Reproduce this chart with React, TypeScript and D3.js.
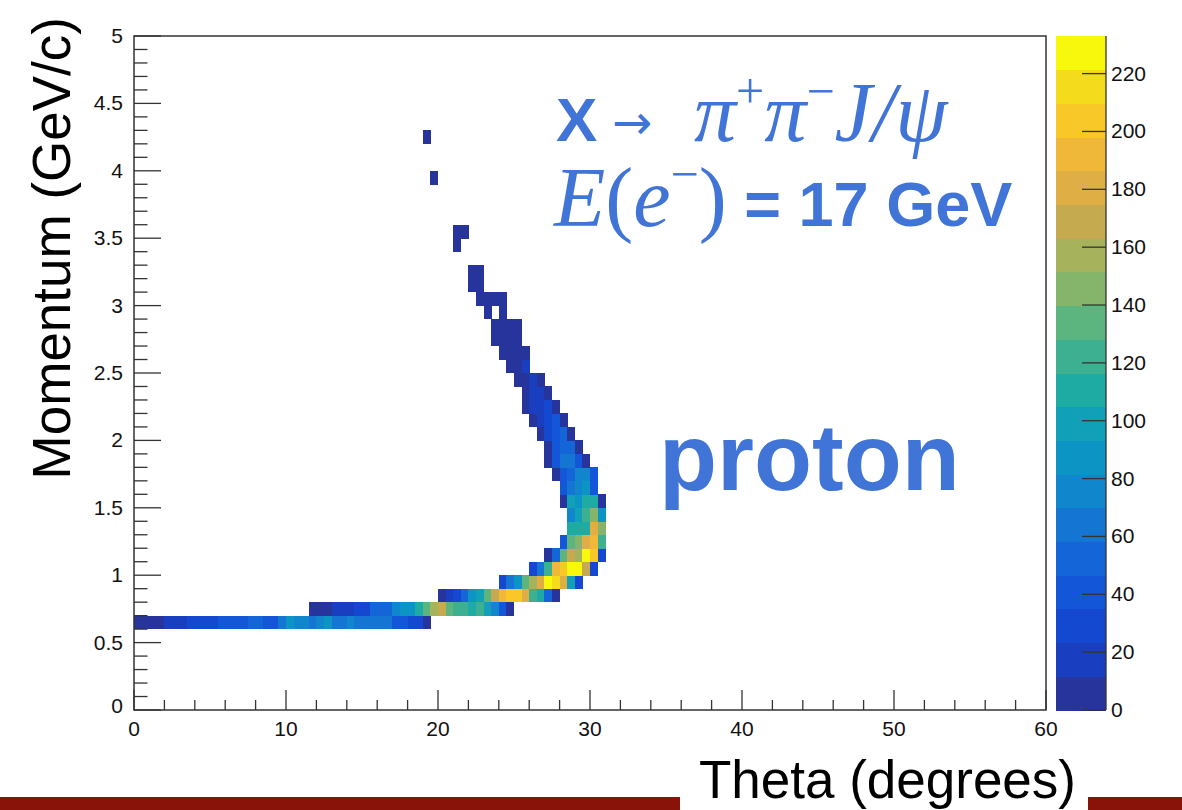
import React from "react";
import * as d3 from "d3";

// ---- data (2D histogram, bins 0.5 deg x 0.1 GeV/c) ----
const THETA_BIN = 0.5;
const P_BIN = 0.1;
const Z_MAX = 233;

// lower momentum edge of each filled row
const rowMomentum = [0.6, 0.7, 0.8, 0.9, 1.0, 1.1, 1.2, 1.3, 1.4, 1.5, 1.6, 1.7, 1.8, 1.9, 2.0, 2.1, 2.2, 2.3, 2.4, 2.5, 2.6, 2.7, 2.8, 2.9, 3.0, 3.1, 3.2, 3.4, 3.5, 3.9, 4.2];
// lower theta edge of the first filled cell of each row
const rowThetaStart = [0, 11.5, 20, 24, 26, 27, 28, 28.5, 28.5, 28, 28, 27.5, 27, 27, 26.5, 26, 25.5, 25.5, 25, 24.5, 24, 23.5, 23.5, 23, 22.5, 22, 22, 21, 21, 19.5, 19];
// counts of consecutive cells starting at rowThetaStart
const rowCounts = [
  [8, 8, 8, 10, 22, 22, 22, 24, 30, 30, 32, 40, 35, 45, 45, 55, 55, 45, 45, 60, 88, 70, 70, 60, 70, 88, 60, 60, 72, 62, 62, 62, 60, 60, 45, 45, 25, 25, 8],
  [8, 8, 10, 22, 22, 22, 32, 32, 50, 50, 55, 75, 90, 90, 115, 130, 155, 165, 135, 125, 125, 105, 125, 95, 80, 40, 10],
  [5, 22, 30, 55, 85, 95, 135, 165, 195, 205, 205, 180, 125, 110, 50, 10],
  [25, 60, 85, 135, 160, 185, 225, 215, 180, 100, 30],
  [25, 65, 120, 195, 200, 228, 225, 170, 25],
  [8, 55, 130, 170, 160, 225, 205, 25],
  [45, 135, 145, 185, 195, 120],
  [105, 105, 110, 185, 140],
  [75, 100, 120, 145, 85],
  [10, 100, 90, 110, 110, 8],
  [35, 65, 80, 90, 35],
  [8, 35, 55, 75, 75, 35],
  [8, 35, 60, 62, 40, 8],
  [8, 35, 55, 55, 8],
  [8, 30, 45, 50, 8],
  [8, 22, 30, 35, 8],
  [8, 20, 22, 30, 8],
  [8, 22, 22, 8],
  [8, 8, 22, 8],
  [8, 8, 22],
  [6, 6, 6, 6],
  [6, 6, 6, 6],
  [6, 6, 6, 6],
  [5, 0, 5],
  [5, 5, 5, 5],
  [4, 4],
  [4, 4],
  [3],
  [3, 3],
  [2],
  [2],
];

const xTickValues = [0, 10, 20, 30, 40, 50, 60];
const yTickValues = [0, 0.5, 1, 1.5, 2, 2.5, 3, 3.5, 4, 4.5, 5];
const zTickValues = [0, 20, 40, 60, 80, 100, 120, 140, 160, 180, 200, 220];

// 20-level palette (bottom -> top)
const palette = [
  "#26349b", "#1a3ec0", "#1448d0", "#1456d8", "#1466d8", "#1476d2", "#1086cc", "#0c94c4",
  "#10a0b8", "#1eaba3", "#3cb090", "#5cb47e", "#84b56a", "#a6b25c", "#c6aa50", "#dfaf46",
  "#f0b838", "#f8c828", "#f4dc1c", "#f8f80c",
];

const ANN = "#4074d6";
const SANS = "Liberation Sans, Arial, Helvetica, sans-serif";
const SERIF = "Liberation Serif, Times New Roman, serif";

export default function App() {
  const W = 1182, H = 810;
  const x = d3.scaleLinear().domain([0, 60]).range([134, 1046]);
  const y = d3.scaleLinear().domain([0, 5]).range([710, 36]);
  const z = d3.scaleLinear().domain([0, Z_MAX]).range([710, 36]);
  const color = d3.scaleQuantize<string>().domain([0, Z_MAX]).range(palette);
  const cbX0 = 1056, cbX1 = 1106;

  const cells: { t: number; p: number; v: number }[] = [];
  rowCounts.forEach((row, r) => {
    row.forEach((v, k) => {
      if (v > 0) cells.push({ t: rowThetaStart[r] + k * THETA_BIN, p: rowMomentum[r], v });
    });
  });

  const xMinor = x.ticks(30);
  const yMinor = y.ticks(50);
  const levels = d3.range(palette.length).map((i) => (i * Z_MAX) / palette.length);
  const fmt = (v: number) => String(+v.toFixed(2));

  return (
    <svg width={W} height={H} style={{ position: "absolute", left: 0, top: 0, background: "#fff" }} fontFamily={SANS}>
      <rect x={0} y={0} width={W} height={H} fill="#fff" />
      {/* cells */}
      <g shapeRendering="crispEdges">
        {cells.map((c, i) => (
          <rect
            key={i}
            x={x(c.t)}
            y={y(c.p + P_BIN)}
            width={x(c.t + THETA_BIN) - x(c.t) + 0.3}
            height={y(c.p) - y(c.p + P_BIN) + 0.3}
            fill={color(c.v)}
          />
        ))}
      </g>
      {/* frame */}
      <rect x={134} y={36} width={912} height={674} fill="none" stroke="#333" strokeWidth={1.5} />
      {/* ticks */}
      <g stroke="#333" strokeWidth={1.3}>
        {xMinor.map((t) => {
          const major = xTickValues.includes(t);
          return <line key={"xt" + t} x1={x(t)} x2={x(t)} y1={710} y2={710 - (major ? 20 : 10)} />;
        })}
        {yMinor.map((t) => {
          const major = yTickValues.some((v) => Math.abs(v - t) < 1e-6);
          return <line key={"yt" + t} x1={134} x2={134 + (major ? 27 : 13.5)} y1={y(t)} y2={y(t)} />;
        })}
      </g>
      <g fontSize={21} fill="#111">
        {xTickValues.map((t) => (
          <text key={"xl" + t} x={x(t)} y={736} textAnchor="middle">{fmt(t)}</text>
        ))}
        {yTickValues.map((t) => (
          <text key={"yl" + t} x={123} y={y(t) + (t === 0 ? 3 : 7)} textAnchor="end">{fmt(t)}</text>
        ))}
      </g>
      {/* color bar */}
      <g shapeRendering="crispEdges">
        {levels.map((lv, i) => (
          <rect
            key={"cb" + i}
            x={cbX0}
            y={z(lv + Z_MAX / palette.length)}
            width={cbX1 - cbX0}
            height={z(lv) - z(lv + Z_MAX / palette.length) + 0.5}
            fill={palette[i]}
          />
        ))}
      </g>
      <line x1={cbX1} x2={cbX1} y1={36} y2={710} stroke="#333" strokeWidth={1.3} />
      <g stroke="#333" strokeWidth={1.3}>
        {zTickValues.map((t) => (
          <line key={"zt" + t} x1={cbX1 - 24} x2={cbX1} y1={z(t)} y2={z(t)} />
        ))}
      </g>
      <g fontSize={21} fill="#111">
        {zTickValues.map((t) => (
          <text key={"zl" + t} x={1111} y={z(t) + 7}>{t}</text>
        ))}
      </g>
      {/* axis titles */}
      <text transform="translate(70,17) rotate(-90)" textAnchor="end" fontSize={53} fill="#000">
        Momentum (GeV/c)
      </text>
      {/* bottom bar */}
      <rect x={0} y={797} width={680} height={13} fill="#8a1309" />
      <rect x={1088} y={797} width={94} height={13} fill="#8a1309" />
      <text x={1076} y={798} textAnchor="end" fontSize={53} fill="#000">
        Theta (degrees)
      </text>
      {/* annotations */}
      <text x={556} y={141} fill={ANN} fontFamily={SANS} fontWeight="bold" fontSize={62}>X</text>
      <text x={612} y={139} fill={ANN} fontFamily="DejaVu Sans" fontSize={48}>→</text>
      <text x={694} y={141} fill={ANN} fontFamily={SERIF}>
        <tspan fontStyle="italic" fontSize={84}>π</tspan>
        <tspan fontSize={50} dy={-33}>+</tspan>
        <tspan fontStyle="italic" fontSize={84} dy={33}>π</tspan>
        <tspan fontSize={50} dy={-33}>−</tspan>
        <tspan fontStyle="italic" fontSize={84} dy={33}>J/ψ</tspan>
      </text>
      <text x={554} y={226} fill={ANN}>
        <tspan fontFamily={SERIF} fontStyle="italic" fontSize={84}>E</tspan>
        <tspan fontFamily={SERIF} fontSize={84}>(</tspan>
        <tspan fontFamily={SERIF} fontStyle="italic" fontSize={84}>e</tspan>
        <tspan fontFamily={SERIF} fontSize={50} dy={-35}>−</tspan>
        <tspan fontFamily={SERIF} fontSize={84} dy={35}>)</tspan>
        <tspan fontFamily={SANS} fontWeight="bold" fontSize={63}> = 17 GeV</tspan>
      </text>
      <text x={659} y={490} fill={ANN} fontFamily={SANS} fontWeight="bold" fontSize={95}>
        proton
      </text>
    </svg>
  );
}
